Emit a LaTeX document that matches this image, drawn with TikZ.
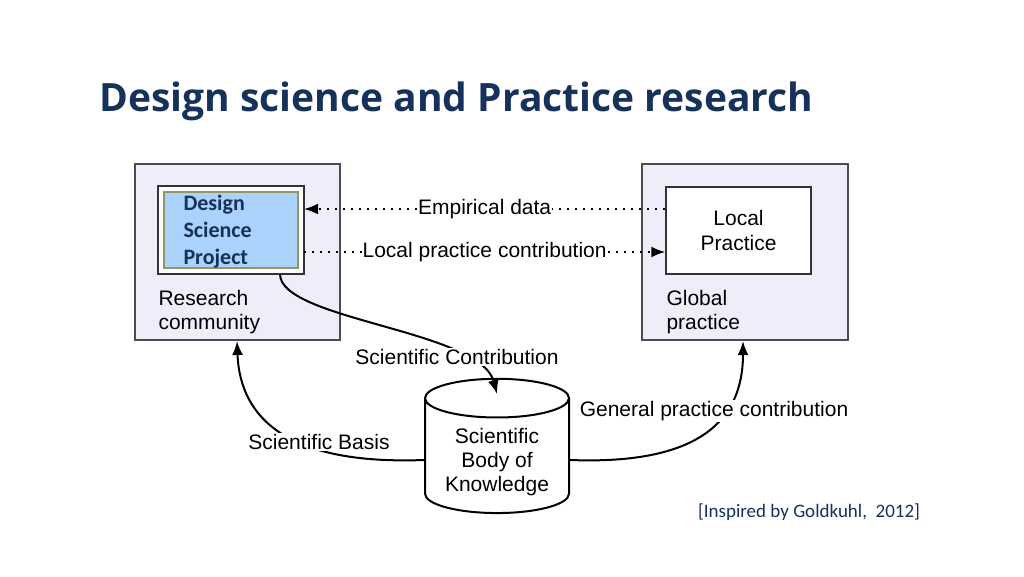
\documentclass[tikz,border=0pt]{standalone}
\usepackage{fontspec}
\setmainfont{Liberation Sans}
\newfontfamily\titlefont{Open Sans}
\newfontfamily\calfont{Carlito}
\usetikzlibrary{arrows.meta, shapes.geometric}
\definecolor{navy}{RGB}{22,50,92}
\definecolor{lavender}{RGB}{238,238,250}
\definecolor{skyfill}{RGB}{170,210,250}
\definecolor{olive}{RGB}{150,150,100}
\tikzset{
    area/.style={draw=black!70, fill=lavender, line width=1.5pt},
    lbl/.style={font=\fontsize{21}{24}\selectfont, align=left, anchor=west},
    flow/.style={line width=2pt, -{Latex[length=14pt, width=11pt]}},
    dataflow/.style={line width=2pt, dash pattern=on 2pt off 6pt, -{Latex[length=14pt, width=11pt]}},
    tag/.style={fill=white, inner sep=1pt, font=\fontsize{21}{24}\selectfont}
}
\begin{document}
\begin{tikzpicture}[x=1pt, y=-1pt]
    \useasboundingbox (0,0) rectangle (1024,576);

    % Title
    \node[anchor=west, text=navy, font=\titlefont\bfseries\fontsize{39}{44}\selectfont]
        (title) at (96,101) {Design science and Practice research};

    % Research community with the project inside
    \draw[area] (135,164) rectangle (340,340);
    \draw[draw=black!80, fill=white, line width=1.5pt] (158,186) rectangle (304,274);
    \node[draw=olive, fill=skyfill, line width=2.5pt, minimum width=134pt, minimum height=76pt]
        (dsp) at (231,230) {};
    \node[anchor=north west, text=navy, align=left, font=\calfont\bfseries\fontsize{22}{27}\selectfont]
        at (180,192) {Design\\Science\\Project};
    \coordinate (dspE) at (304,230);
    \node[lbl] (rc) at (155,312) {Research\\community};

    % Global practice with local practice
    \draw[area] (642,164) rectangle (848,340);
    \node[draw=black!80, fill=white, line width=1.5pt, minimum width=145pt, minimum height=87pt,
          align=center, font=\fontsize{21}{25}\selectfont] (local) at (738.5,230.5) {Local\\Practice};
    \node[lbl] (gp) at (663,312) {Global\\practice};

    % Body of knowledge
    \node[cylinder, shape border rotate=90, draw, line width=2pt, fill=white, aspect=0.35,
          minimum width=144pt, minimum height=132pt, align=center,
          font=\fontsize{21}{24}\selectfont] (body) at (497,459) {\\[-2pt]Scientific\\Body of\\Knowledge};

    % Data between project and practice
    \draw[dataflow] (local.west |- 0,209) -- node[tag] {Empirical data} (dspE |- 0,209);
    \draw[dataflow] (dspE |- 0,252) -- node[tag] {Local practice contribution} (local.west |- 0,252);

    % Contributions
    \coordinate (dspS) at (280,274);
    \coordinate (rcS) at (237,341);
    \coordinate (gpS) at (743,341);
    \draw[flow] (dspS) .. controls (280,320) and (480,330) .. (497,394);
    \node[tag] at (457,357) {Scientific Contribution};
    \draw[flow] (body.west |- 0,460) .. controls (290,465) and (240,420) .. (rcS);
    \node[tag] at (319,442) {Scientific Basis};
    \draw[flow] (body.east |- 0,460) .. controls (700,465) and (743,420) .. (gpS);
    \node[tag] at (714,411) {General practice contribution};

    \node[text=navy, font=\calfont\fontsize{19}{22}\selectfont] (cite) at (809,512)
        {[Inspired by Goldkuhl,\ \ 2012]};
\end{tikzpicture}
\end{document}
